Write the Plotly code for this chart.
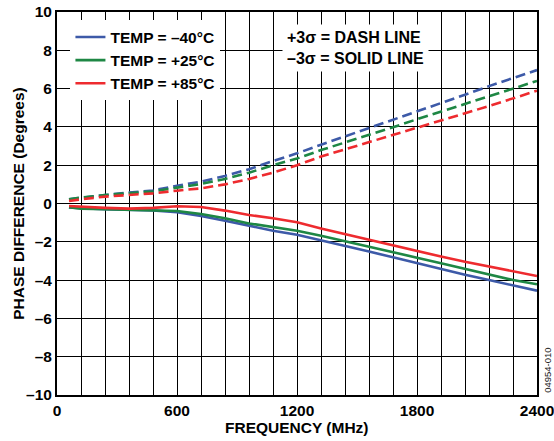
import plotly.graph_objects as go

freq = [60, 120, 240, 360, 480, 600, 720, 840, 960, 1080, 1200, 1320, 1440,
        1560, 1680, 1800, 1920, 2040, 2160, 2280, 2400]

blue_p3 = [0.22, 0.30, 0.44, 0.57, 0.68, 0.93, 1.14, 1.44, 1.79, 2.22, 2.62, 3.07,
           3.50, 3.93, 4.36, 4.80, 5.23, 5.68, 6.13, 6.54, 6.97]
green_p3 = [0.22, 0.31, 0.44, 0.53, 0.63, 0.83, 1.02, 1.28, 1.61, 2.00, 2.35, 2.79,
            3.18, 3.58, 3.98, 4.40, 4.80, 5.23, 5.61, 6.01, 6.40]
red_p3 = [0.13, 0.22, 0.36, 0.46, 0.53, 0.67, 0.79, 1.00, 1.28, 1.61, 2.00, 2.45,
          2.83, 3.18, 3.56, 3.93, 4.31, 4.71, 5.09, 5.49, 5.89]

blue_m3 = [-0.20, -0.25, -0.30, -0.34, -0.36, -0.46, -0.65, -0.90, -1.16, -1.42, -1.63,
           -1.91, -2.22, -2.51, -2.81, -3.12, -3.42, -3.72, -4.00, -4.29, -4.55]
green_m3 = [-0.20, -0.27, -0.30, -0.34, -0.37, -0.39, -0.55, -0.77, -1.04, -1.24, -1.42,
            -1.68, -1.96, -2.25, -2.55, -2.83, -3.12, -3.42, -3.70, -4.00, -4.22]
red_m3 = [-0.13, -0.17, -0.23, -0.27, -0.23, -0.14, -0.18, -0.37, -0.60, -0.77, -0.98,
          -1.31, -1.61, -1.90, -2.20, -2.48, -2.77, -3.04, -3.30, -3.56, -3.79]

series_names = ["TEMP = –40°C", "TEMP = +25°C", "TEMP = +85°C"]
colors = ["#3d5aa8", "#1e8744", "#ee2b2f"]

x_tickvals = [0, 600, 1200, 1800, 2400]
x_ticktext = ["0", "600", "1200", "1800", "2400"]
y_tickvals = [-10, -8, -6, -4, -2, 0, 2, 4, 6, 8, 10]
y_ticktext = ["–10", "–8", "–6", "–4", "–2", "0", "2", "4", "6", "8", "10"]

FONT = "Liberation Sans, Arial, sans-serif"

fig = go.Figure()
for name, col, ys in zip(series_names, colors, [blue_m3, green_m3, red_m3]):
    fig.add_trace(go.Scatter(x=freq, y=ys, mode="lines", name=name,
                             line=dict(color=col, width=2.6), showlegend=True))
for name, col, ys in zip(series_names, colors, [blue_p3, green_p3, red_p3]):
    fig.add_trace(go.Scatter(x=freq, y=ys, mode="lines", name=name,
                             line=dict(color=col, width=2.6, dash="10px,5px"),
                             showlegend=False))

fig.update_layout(
    width=554, height=441,
    margin=dict(l=57, r=17, t=12, b=46, autoexpand=False),
    paper_bgcolor="white", plot_bgcolor="white",
    font=dict(family=FONT, size=15.5, color="black", weight="bold"),
    showlegend=True,
    legend=dict(x=0.028, y=0.978, xanchor="left", yanchor="top",
                bgcolor="white", borderwidth=0, itemwidth=30,
                font=dict(family=FONT, size=15.5, color="black", weight="bold"),
                tracegroupgap=0),
)
fig.update_xaxes(
    range=[0, 2400], tickvals=x_tickvals, ticktext=x_ticktext,
    showgrid=True, gridcolor="black", gridwidth=1.3,
    minor=dict(dtick=120, showgrid=True, gridcolor="black", gridwidth=1.3, ticks=""),
    ticks="", showline=True, linecolor="black", linewidth=2, mirror=True,
    zeroline=False, automargin=False, ticklabeloverflow="allow",
    tickfont=dict(family=FONT, size=15.5, color="black", weight="bold"),
)
fig.update_yaxes(
    range=[-10, 10], tickvals=y_tickvals, ticktext=y_ticktext,
    showgrid=True, gridcolor="black", gridwidth=1.3,
    ticks="", showline=True, linecolor="black", linewidth=2, mirror=True,
    zeroline=False, automargin=False, ticklabeloverflow="allow",
    tickfont=dict(family=FONT, size=15.5, color="black", weight="bold"),
)

fig.add_annotation(text="FREQUENCY (MHz)", xref="paper", yref="paper",
                   x=0.5, y=-0.086, xanchor="center", yanchor="middle",
                   showarrow=False,
                   font=dict(family=FONT, size=15.5, color="black", weight="bold"))
fig.add_annotation(text="PHASE DIFFERENCE (Degrees)", xref="paper", yref="paper",
                   x=-0.0806, y=0.5, xanchor="center", yanchor="middle",
                   textangle=-90, showarrow=False,
                   font=dict(family=FONT, size=15.5, color="black", weight="bold"))
fig.add_annotation(text="+3σ = DASH LINE<br>–3σ = SOLID LINE", xref="paper", yref="paper",
                   x=0.469, y=0.906, xanchor="left", yanchor="middle", align="left",
                   showarrow=False, bgcolor="white", borderpad=4,
                   font=dict(family=FONT, size=16, color="black", weight="bold"))
fig.add_annotation(text="04954-010", xref="paper", yref="paper",
                   x=1.0215, y=0.0, xanchor="center", yanchor="bottom",
                   textangle=-90, showarrow=False,
                   font=dict(family=FONT, size=9.5, color="#222222", weight="normal"))

fig.write_html("out.html",
               config={"displayModeBar": False},
               post_script="document.body.style.margin='0';"
                           "document.body.style.padding='0';"
                           "document.body.style.overflow='hidden';")
